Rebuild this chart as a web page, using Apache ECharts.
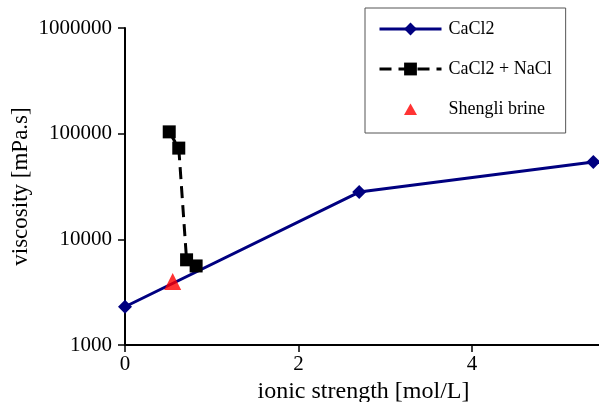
<!DOCTYPE html>
<html>
<head>
<meta charset="utf-8">
<script src="https://cdn.jsdelivr.net/npm/echarts@6/dist/echarts.min.js"></script>
<style>
  html, body { margin: 0; padding: 0; background: #fff; }
  #chart { width: 599px; height: 402px; }
</style>
</head>
<body>
<div id="chart"></div>
<script>
// Viscosity vs. ionic strength
const cacl2X = [0, 2.7, 5.4];
const cacl2Y = [2300, 28000, 54000];

const mixX = [0.51, 0.62, 0.71, 0.82];
const mixY = [104000, 73000, 6400, 5600];

const brineX = [0.55];
const brineY = [4000];

const seriesNames = ['CaCl2', 'CaCl2 + NaCl', 'Shengli brine'];
const xTicks = [0, 2, 4];
const yTicks = [1000, 10000, 100000, 1000000];

const pairs = (xs, ys) => xs.map((x, i) => [x, ys[i]]);
const FONT = "'Liberation Serif', 'DejaVu Serif', serif";

// small triangle centred in the 62x16 legend icon box (corner points fix the box)
const legendTriangle = 'path://M0,0L0,0M62,16L62,16M24.5,14L31,2.5L37.5,14Z';

const chart = echarts.init(document.getElementById('chart'));
chart.setOption({
  animation: false,
  backgroundColor: '#fff',
  textStyle: { fontFamily: FONT, color: '#000' },
  grid: { left: 125, top: 28, right: -3, bottom: 57, containLabel: false, outerBoundsMode: 'none' },
  legend: {
    orient: 'vertical',
    left: 365,
    top: 8,
    padding: [12, 14, 15, 13],
    itemWidth: 62,
    itemHeight: 16,
    itemGap: 22,
    backgroundColor: '#fff',
    borderColor: '#555',
    borderWidth: 1,
    borderRadius: 0,
    lineStyle: { width: 3 },
    data: [
      { name: seriesNames[0] },
      { name: seriesNames[1] },
      { name: seriesNames[2], icon: legendTriangle }
    ],
    textStyle: { fontFamily: FONT, fontSize: 18, color: '#000', padding: [0, 0, 0, 2] }
  },
  xAxis: {
    type: 'value',
    min: xTicks[0],
    max: 5.5,
    interval: 2,
    name: 'ionic strength [mol/L]',
    nameLocation: 'middle',
    nameGap: 35,
    nameMoveOverlap: false,
    nameTextStyle: { fontFamily: FONT, fontSize: 24, color: '#000' },
    axisLine: { show: true, onZero: false, lineStyle: { color: '#000', width: 2 } },
    axisTick: { show: true, length: 7, lineStyle: { color: '#000', width: 1.5 } },
    axisLabel: {
      fontFamily: FONT, fontSize: 21, color: '#000', margin: 9,
      showMaxLabel: false,
      formatter: v => xTicks.includes(v) ? String(v) : ''
    },
    splitLine: { show: false }
  },
  yAxis: {
    type: 'log',
    logBase: 10,
    min: yTicks[0],
    max: yTicks[yTicks.length - 1],
    name: 'viscosity [mPa.s]',
    nameLocation: 'middle',
    nameGap: 93,
    nameMoveOverlap: false,
    nameTextStyle: { fontFamily: FONT, fontSize: 23, color: '#000' },
    axisLine: { show: true, lineStyle: { color: '#000', width: 2 } },
    axisTick: { show: true, length: 7, lineStyle: { color: '#000', width: 1.5 } },
    axisLabel: {
      fontFamily: FONT, fontSize: 21, color: '#000', margin: 13,
      formatter: v => String(Math.round(v))
    },
    splitLine: { show: false },
    minorTick: { show: false }
  },
  series: [
    {
      name: seriesNames[0],
      type: 'line',
      data: pairs(cacl2X, cacl2Y),
      symbol: 'diamond',
      symbolSize: 14,
      itemStyle: { color: '#000080' },
      lineStyle: { color: '#000080', width: 3 },
      z: 2
    },
    {
      name: seriesNames[1],
      type: 'line',
      data: pairs(mixX, mixY),
      symbol: 'rect',
      symbolSize: 13,
      itemStyle: { color: '#000' },
      lineStyle: { color: '#000', width: 3, type: [12, 7] },
      z: 3
    },
    {
      name: seriesNames[2],
      type: 'scatter',
      data: pairs(brineX, brineY),
      symbol: 'triangle',
      symbolSize: 17,
      itemStyle: { color: '#ff0000' },
      z: 4
    }
  ]
});
</script>
</body>
</html>
